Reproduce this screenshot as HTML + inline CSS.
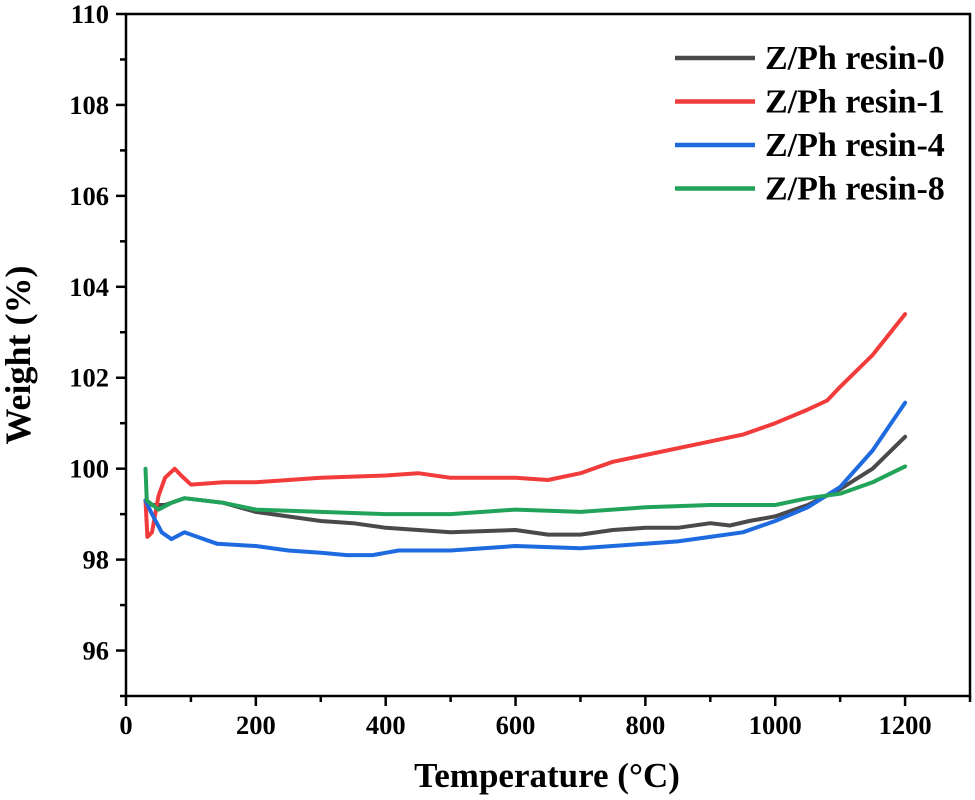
<!DOCTYPE html>
<html><head><meta charset="utf-8"><style>
body{margin:0;background:#fff}
svg{display:block;font-family:"Liberation Serif",serif;font-weight:bold}
</style></head><body>
<svg id="c" width="975" height="800"></svg>
<script>
const xTicks=[0,200,400,600,800,1000,1200];
const yTicks=[96,98,100,102,104,106,108,110];
const seriesNames=["Z/Ph resin-0","Z/Ph resin-1","Z/Ph resin-4","Z/Ph resin-8"];
const seriesColors=["#4a4a4a","#f23c3c","#1e6be0","#22a35a"];
const t0=[30,40,60,90,150,200,300,350,400,450,500,600,650,700,750,800,850,900,930,960,1000,1050,1100,1150,1200];
const w0=[99.3,99.2,99.2,99.35,99.25,99.05,98.85,98.8,98.7,98.65,98.6,98.65,98.55,98.55,98.65,98.7,98.7,98.8,98.75,98.85,98.95,99.2,99.55,100.0,100.7];
const t1=[30,33,40,50,60,75,85,100,150,200,300,400,450,500,600,650,700,750,800,900,950,1000,1050,1080,1100,1150,1200];
const w1=[99.3,98.5,98.6,99.4,99.8,100.0,99.85,99.65,99.7,99.7,99.8,99.85,99.9,99.8,99.8,99.75,99.9,100.15,100.3,100.6,100.75,101.0,101.3,101.5,101.8,102.5,103.4];
const t4=[30,40,55,70,90,110,140,200,250,300,340,380,420,500,600,700,800,850,900,950,1000,1050,1100,1150,1200];
const w4=[99.3,99.0,98.6,98.45,98.6,98.5,98.35,98.3,98.2,98.15,98.1,98.1,98.2,98.2,98.3,98.25,98.35,98.4,98.5,98.6,98.85,99.15,99.6,100.4,101.45];
const t8=[30,32,50,70,90,150,200,300,400,500,600,700,800,900,1000,1050,1100,1150,1200];
const w8=[100.0,99.3,99.1,99.25,99.35,99.25,99.1,99.05,99.0,99.0,99.1,99.05,99.15,99.2,99.2,99.35,99.45,99.7,100.05];
const ts=[t0,t1,t4,t8], ws=[w0,w1,w4,w8];
const L=126,R=970,T=14,B=696;
const X=v=>L+(v-0)/1300*(R-L);
const Y=v=>B-(v-95)/15*(B-T);
const svg=document.getElementById('c');
const NS='http://www.w3.org/2000/svg';
function mk(tag,at,txt){const e=document.createElementNS(NS,tag);for(const k in at)e.setAttribute(k,at[k]);if(txt!==undefined)e.textContent=txt;svg.appendChild(e);return e;}
let e=mk('rect',{x:L,y:T,width:R-L,height:B-T,fill:'none',stroke:'#000','stroke-width':2.5});


xTicks.forEach(v=>{
 let t=mk('line',{x1:X(v),x2:X(v),y1:B,y2:B+10,stroke:'#000','stroke-width':2.5});
 
 
 let m=mk('line',{x1:X(v+100),x2:X(v+100),y1:B,y2:B+6,stroke:'#000','stroke-width':2.5});
 
 
 let l=mk('text',{x:X(v),y:B+38,'text-anchor':'middle','font-size':26.5},v);
 
 
});
yTicks.forEach(v=>{
 let t=mk('line',{x1:L-10,x2:L,y1:Y(v),y2:Y(v),stroke:'#000','stroke-width':2.5});
 
 
 let m=mk('line',{x1:L-6,x2:L,y1:Y(v-1),y2:Y(v-1),stroke:'#000','stroke-width':2.5});
 
 
 let l=mk('text',{x:L-17,y:Y(v)+9,'text-anchor':'end','font-size':26.5},v);
 
 
});
let xt=mk('text',{x:547,y:787,'text-anchor':'middle','font-size':35},'Temperature (°C)');


let yt=mk('text',{x:0,y:0,'text-anchor':'middle','font-size':36,transform:'translate(30,355) rotate(-90)'},'Weight (%)');


ts.forEach((tt,i)=>{
 const d=tt.map((v,j)=>(j?'L':'M')+X(v).toFixed(1)+','+Y(ws[i][j]).toFixed(1)).join('');
 let p=mk('path',{d:d,fill:'none',stroke:seriesColors[i],'stroke-width':4,'stroke-linejoin':'round','stroke-linecap':'round'});
 
 
 const ly=58+i*43.5;
 let ll=mk('line',{x1:675,x2:755,y1:ly,y2:ly,stroke:seriesColors[i],'stroke-width':4.5});
 
 
 let lt=mk('text',{x:765,y:ly+11,'font-size':34},seriesNames[i]);
 
 
});
</script>
</body></html>
